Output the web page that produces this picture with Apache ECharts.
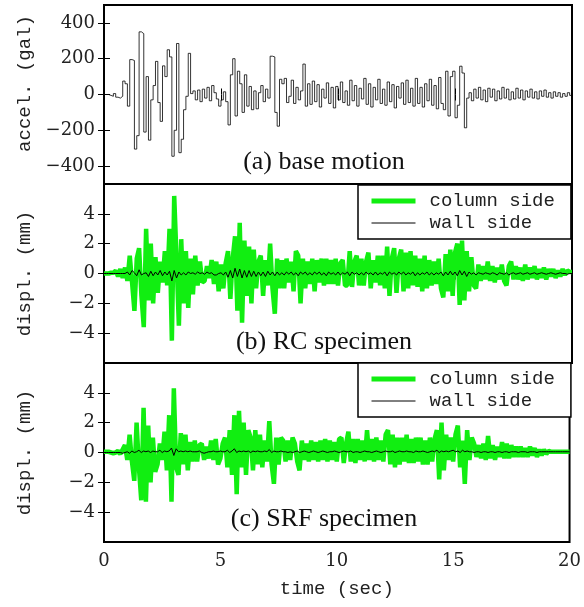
<!DOCTYPE html>
<html><head><meta charset="utf-8">
<script src="https://cdn.jsdelivr.net/npm/echarts@6/dist/echarts.min.js"></script>
<style>html,body{margin:0;padding:0;background:#fff}#c{width:584px;height:607px}</style>
</head><body><div id="c"></div><script>
// sampling step of the read-off series (sec)
const DT = 0.1;

// (a) base motion acceleration (gal), t = 0.0 ... 20.0
const ACCEL = [
0,0,-5,-10,5,-15,-20,-10,75,60,
-65,195,190,-305,-230,350,340,-210,100,-255,
-30,50,185,-45,-150,160,100,250,210,-345,
-200,285,-325,-250,-85,-10,230,5,20,-30,
25,-40,30,-20,40,-35,50,10,-25,-65,
-30,15,-40,-170,110,200,-120,130,60,-100,
110,-65,45,-85,20,-80,10,50,-40,30,
-20,214,210,-100,-177,85,60,90,-45,-10,
80,-50,40,-30,20,170,-65,60,-55,75,
-40,55,-70,30,-20,65,-50,40,-75,45,
-30,70,-45,20,-60,80,-35,50,-65,35,
-25,90,-55,60,-70,40,-30,85,-50,30,
-60,70,-40,55,-75,45,-20,65,-55,80,
-45,35,-65,90,-50,40,-70,60,-35,85,
-60,50,-80,95,-50,-85,130,-120,100,130,
-130,-60,158,120,-186,-20,10,-35,30,-20,
40,-30,25,-40,35,-15,30,-35,20,-25,
40,-20,30,-30,15,-25,35,-20,25,-30,
20,-15,30,-20,15,-25,20,-10,25,-15,
10,-20,15,-10,10,-15,5,-10,10,-5,0];

// (b) RC specimen displacement (mm)
const RC_COLUMN = [
0,0,0,0.05,0.05,0.2,-0.2,0.3,-0.3,0.4,
-0.5,1.2,-0.6,-2.5,1.0,1.7,-1.5,-3.6,3.0,-1.8,
2.0,-2.0,1.1,-1.3,0.8,-0.6,1.5,-0.8,3.0,-4.5,
5.2,1.0,-3.5,2.3,-2.0,1.5,-2.3,1.0,-1.4,1.2,
-0.8,0.8,-0.6,-0.5,0.5,-0.3,0.9,-0.7,0.8,-1.2,
0.6,-1.0,0.7,1.5,-1.7,1.0,2.5,-2.5,3.4,-3.3,
2.2,-1.5,1.8,-2.0,1.6,-1.0,0.8,1.2,-1.5,0.9,
-0.8,2.0,-1.0,-2.7,1.0,-1.0,0.9,-1.0,1.0,-0.6,
0.8,-1.2,1.5,1.2,-2.0,1.0,-1.0,0.8,-0.7,1.0,
-1.2,0.9,-0.6,1.0,-0.8,1.0,-0.7,0.9,-0.7,1.0,
-0.8,0.7,0.9,-0.8,-0.8,1.5,-0.9,0.8,1.2,-0.8,
1.0,-0.8,0.8,1.4,-1.0,0.9,-0.6,1.2,-0.8,1.2,
-1.0,1.8,-1.5,1.0,1.7,-1.3,1.0,1.6,-1.2,1.4,
-1.0,1.5,-0.8,1.2,-0.9,1.0,-1.2,1.2,-1.0,0.9,
-0.8,0.8,-0.7,1.0,-1.0,-1.6,1.3,-1.2,1.6,-1.5,
1.4,2.0,-2.1,2.2,-1.8,1.5,-1.2,1.1,-0.8,-1.0,
0.6,-0.5,0.5,-0.4,0.8,-0.5,0.5,-0.6,0.4,-0.4,
0.6,-0.5,-0.8,0.5,0.8,-0.4,0.5,-0.4,0.4,-0.5,
0.6,-0.4,0.4,-0.3,0.5,-0.4,0.3,-0.3,0.4,-0.4,
0.3,-0.2,0.3,-0.3,0.2,-0.2,0.3,-0.1,0.2,0.1,0.1];
const RC_WALL = [
0,0,0,0,0,0,0,0,0,0,
0.1,-0.1,0.2,0.05,-0.15,0.25,-0.1,0,0.05,-0.2,
0.15,-0.15,0.1,-0.1,0.2,-0.15,0.1,-0.1,0.15,-0.5,
0.2,-0.3,0.1,-0.1,0.05,-0.1,0.1,0,0.05,-0.05,
0.1,0,0.05,-0.05,0.1,0,0.05,-0.1,-0.1,0,
0.05,-0.1,0.1,-0.25,0.2,-0.3,0.35,-0.2,0.3,-0.3,
0.2,-0.25,0.2,-0.2,0.15,-0.2,0.1,-0.15,0.1,-0.2,
0.15,-0.1,0.1,-0.15,0.1,-0.1,0.05,-0.1,0.1,-0.05,
0.1,-0.1,0.05,-0.15,0.1,-0.05,0.1,-0.1,0.05,-0.1,
0.1,-0.05,0.1,-0.1,0.05,-0.15,0.1,-0.05,0.05,-0.1,
0.1,-0.1,0.05,-0.05,0.1,-0.15,0.1,-0.05,0.05,-0.1,
0.05,-0.1,0.1,-0.05,0.05,-0.1,0.1,-0.1,0.05,-0.05,
0.1,-0.15,0.1,-0.05,0.05,-0.1,0.1,-0.05,0.1,-0.1,
0.05,-0.05,0.1,-0.15,0.05,-0.1,0.05,-0.05,0.1,-0.1,
0.05,-0.1,0.05,-0.05,0.1,-0.15,0.1,-0.1,0.15,-0.1,
0.1,-0.15,0.2,-0.1,0.15,-0.2,0.1,-0.05,0.05,-0.1,
0.05,0,-0.05,0.05,0,-0.05,0.05,0,-0.1,0.05,
0,-0.05,0.05,-0.1,0,0.05,-0.05,0,0.05,-0.05,
0,0.05,-0.05,0,0.05,-0.05,0,0.05,0,-0.05,
0,0.05,0,-0.05,0,0.05,0,0,-0.05,0,0];

// (c) SRF specimen displacement (mm)
const SRF_COLUMN = [
0.05,0.05,0.05,0,-0.05,0,0.1,-0.1,0.2,0.5,
-0.5,1.2,-0.6,-1.9,2.0,-1.0,-3.2,3.0,-3.3,1.8,
-2.0,1.0,-1.3,-0.8,0.6,-0.5,1.4,-1.2,2.5,-3.3,
4.3,-1.0,-1.5,1.3,-0.8,1.2,-1.2,0.7,-0.6,0.8,
-0.6,0.5,0.6,-0.5,0.4,-0.4,0.8,-0.5,0.9,-0.8,
-0.4,0.6,1.0,-1.0,1.5,-1.5,2.5,-2.8,2.8,-1.0,
2.0,-1.5,1.5,1.0,-1.2,1.5,-0.8,1.2,-1.0,0.8,
-0.6,2.1,-0.8,-2.1,1.0,-0.8,1.0,0.8,-0.6,0.8,
-0.5,1.0,0.6,-0.6,-1.2,0.8,-0.5,0.6,-0.6,0.8,
-0.5,0.7,-0.6,0.8,-0.5,0.9,-0.6,0.8,-0.5,0.7,
-0.6,0.9,1.0,-0.7,0.6,1.4,-0.6,0.9,-0.7,0.9,
-0.5,0.8,-0.6,1.5,-0.5,0.9,-0.6,1.0,-0.5,0.8,
-0.6,1.2,1.5,-0.8,1.2,-1.0,1.0,-0.8,1.0,-0.6,
1.2,-0.7,0.9,-0.7,1.0,-0.6,1.0,-0.8,0.8,-0.8,
1.0,-0.6,0.9,1.5,-1.8,2.0,-1.2,1.2,-0.5,1.0,
-0.6,1.2,1.8,-1.0,0.8,-2.1,1.5,-0.5,1.0,0.6,
-0.3,0.5,-0.4,0.6,-0.5,1.1,-0.4,0.5,-0.5,0.4,
-0.3,0.7,-0.4,0.6,-0.4,0.5,-0.3,0.4,-0.3,0.4,
-0.3,0.3,-0.3,0.4,-0.2,0.3,-0.3,0.2,-0.2,0.2,
-0.1,0.1,0.05,0.05,0.05,0.05,0.05,0.05,0.05,0.05,0.05];
const SRF_WALL = [
0,0,0,0,0,0,0,0,-0.05,0,
0.05,-0.05,0.1,0,0.05,0.15,0,0.1,0.05,0.1,
0,0.1,0.05,0.05,0.15,0,0.1,0.05,0.1,0.3,
-0.2,0.25,0.05,0.1,0.05,0.1,0.05,0.1,0.05,0.05,
0.05,0.1,0,-0.05,0,0.05,0.05,0.1,0.05,0.05,
0.1,0.05,0.05,0.15,0,0.1,0.25,0,0.1,0.05,
0.1,0.05,0.1,0,0.1,0.05,0.1,0.05,0.05,0.1,
0.05,0.2,0,0.1,0.05,0.05,0.1,0.05,0.05,0,
0.05,0,0.05,0.1,0,0.05,0.1,0.05,0,0.05,
0.1,0.05,0,0.05,0.1,0.05,0,0.05,0.05,0.1,
0.05,0,0.05,0.1,0.05,0.05,0.1,0,0.05,0.05,
0,0.05,0.1,0.05,0.05,0,0.05,0.1,0.05,0,
0.05,0.1,0.05,0.05,0.1,0,0.05,0.1,0.05,0.05,
0.1,0.05,0.05,0,0.1,0.05,0.05,0.1,0.05,0,
0.05,0.1,0.05,0.15,0,0.1,0.05,0.1,0.05,0.1,
0.15,0.05,0.1,0,0.15,0.05,0.1,0.05,0.05,0,
0.05,0.05,0,0.05,0.05,0,0.05,0.05,0,0.05,
0.05,0,0.05,0.05,0,0.05,0.05,0.05,0,0.05,
0.05,0.05,0,0.05,0.05,0.05,0,0.05,0.05,0.05,
0.05,0.05,0.05,0.05,0.05,0.05,0.05,0.05,0.05,0.05,0.05];

const ACC_TICKS = [-400, -200, 0, 200, 400];
const DISP_TICKS = [-4, -2, 0, 2, 4];
const PANEL_TITLES = ['(a) base motion', '(b) RC specimen', '(c) SRF specimen'];
const SERIES_NAMES = ['column side', 'wall side'];
const Y_NAMES = ['accel. (gal)', 'displ. (mm)', 'displ. (mm)'];
const X_NAME = 'time (sec)';

function pairs(arr) { return arr.map((v, i) => [Math.round(i * DT * 100) / 100, v]); }

const GREEN = '#11ee11';
const MONO = '"Liberation Mono", monospace';
const SERIF = '"DejaVu Serif", serif';
const TITLE_FONT = '"Liberation Serif", serif';

const panelTops = [5, 184, 363];
const panelH = 179;
const grids = panelTops.map(t => ({
  left: 104, top: t, width: 468, height: panelH,
  show: true, borderColor: '#000', borderWidth: 2, backgroundColor: 'transparent'
}));

const fmtMinus = v => String(v).replace('-', '\u2212');
const xAxes = [], yAxes = [];
for (let i = 0; i < 3; i++) {
  const last = i === 2;
  xAxes.push({
    type: 'value', gridIndex: i, position: 'bottom', min: 0, max: 20, interval: 5,
    axisLine: { show: false }, splitLine: { show: false },
    axisTick: { show: true, inside: true, length: 6, lineStyle: { color: '#000', width: 1 } },
    axisLabel: { show: last, margin: 10, fontFamily: SERIF, fontSize: 18, color: '#222' },
    name: last ? X_NAME : '', nameLocation: 'middle', nameGap: 37,
    nameTextStyle: { fontFamily: MONO, fontSize: 19, color: '#222' }
  });
  xAxes.push({
    type: 'value', gridIndex: i, position: 'top', min: 0, max: 20, interval: 5,
    axisLine: { show: false }, splitLine: { show: false },
    axisTick: { show: true, inside: true, length: 6, lineStyle: { color: '#000', width: 1 } },
    axisLabel: { show: false }
  });
  const ticks = i === 0 ? ACC_TICKS : DISP_TICKS;
  const lim = i === 0 ? 500 : 6;
  yAxes.push({
    type: 'value', gridIndex: i, position: 'left', min: -lim, max: lim,
    axisLine: { show: false }, splitLine: { show: false },
    axisTick: { show: true, inside: true, length: 6, customValues: ticks, lineStyle: { color: '#000', width: 1 } },
    axisLabel: { show: true, customValues: ticks, margin: 9, fontFamily: SERIF, fontSize: 18, color: '#222', formatter: fmtMinus },
    name: Y_NAMES[i], nameLocation: 'middle', nameRotate: 90, nameGap: 70,
    nameTextStyle: { fontFamily: MONO, fontSize: 19, color: '#222', padding: i === 0 ? [0, 0, 0, 22] : 0 }
  });
  yAxes.push({
    type: 'value', gridIndex: i, position: 'right', min: -lim, max: lim,
    axisLine: { show: false }, splitLine: { show: false },
    axisTick: { show: true, inside: true, length: 6, customValues: ticks, lineStyle: { color: '#000', width: 1 } },
    axisLabel: { show: false }
  });
}

const lineBase = { type: 'line', showSymbol: false, symbol: 'none', animation: false, silent: true };
const series = [
  Object.assign({}, lineBase, { name: 'base motion', xAxisIndex: 0, yAxisIndex: 0, step: 'end',
    data: pairs(ACCEL), lineStyle: { color: '#000', width: 0.8 }, itemStyle: { color: '#000' } }),
  Object.assign({}, lineBase, { name: SERIES_NAMES[0], xAxisIndex: 2, yAxisIndex: 2,
    data: pairs(RC_COLUMN), lineStyle: { color: GREEN, width: 4.5 }, itemStyle: { color: GREEN } }),
  Object.assign({}, lineBase, { name: SERIES_NAMES[1], xAxisIndex: 2, yAxisIndex: 2,
    data: pairs(RC_WALL), lineStyle: { color: '#000', width: 1 }, itemStyle: { color: '#000' } }),
  Object.assign({}, lineBase, { name: SERIES_NAMES[0], xAxisIndex: 4, yAxisIndex: 4,
    data: pairs(SRF_COLUMN), lineStyle: { color: GREEN, width: 4.5 }, itemStyle: { color: GREEN } }),
  Object.assign({}, lineBase, { name: SERIES_NAMES[1], xAxisIndex: 4, yAxisIndex: 4,
    data: pairs(SRF_WALL), lineStyle: { color: '#000', width: 1 }, itemStyle: { color: '#000' } })
];

const legends = [185, 363].map(t => ({
  data: [
    { name: SERIES_NAMES[0], lineStyle: { color: GREEN, width: 5 } },
    { name: SERIES_NAMES[1], lineStyle: { color: '#000', width: 1 } }
  ],
  left: 358, top: t, orient: 'vertical', selectedMode: false,
  itemWidth: 44, itemHeight: 14, itemGap: 2,
  itemStyle: { opacity: 0, color: 'rgba(0,0,0,0)', borderColor: 'rgba(0,0,0,0)', borderWidth: 0 },
  padding: [6, 16, 6, 11], backgroundColor: '#fff', borderColor: '#000', borderWidth: 1.5, borderRadius: 0,
  textStyle: { fontFamily: MONO, fontSize: 19, lineHeight: 20, color: '#222', padding: [0, 0, 0, 9] }
}));

const titleY = [162, 342, 519];
const graphic = PANEL_TITLES.map((s, i) => ({
  type: 'text', x: 324, y: titleY[i], z: 100,
  style: { text: s, font: '26px ' + TITLE_FONT, fill: '#111', align: 'center', verticalAlign: 'middle' }
}));

const chart = echarts.init(document.getElementById('c'), null, { renderer: 'canvas' });
chart.setOption({
  animation: false, backgroundColor: '#fff',
  grid: grids, xAxis: xAxes, yAxis: yAxes, series, legend: legends, graphic
});
</script></body></html>
